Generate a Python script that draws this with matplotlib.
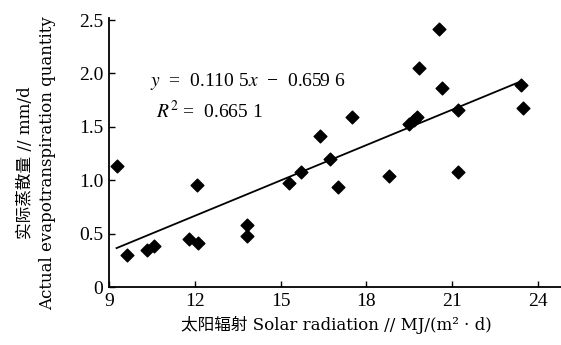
import numpy as np
import matplotlib
matplotlib.use("Agg")
import matplotlib.pyplot as plt

plt.rcParams['font.family'] = ['Liberation Serif', 'Noto Sans CJK SC']
plt.rcParams['mathtext.fontset'] = 'stix'

# solar radiation MJ/(m2 d) and actual evapotranspiration mm/d
radiation = [9.27, 9.65, 10.32, 10.59, 11.81, 12.08, 12.11, 13.83, 13.83,
             15.29, 15.73, 16.38, 16.73, 17.02, 17.48, 18.78, 19.48, 19.65,
             19.77, 19.83, 20.53, 20.65, 21.2, 21.2, 23.4, 23.48]
evap = [1.13, 0.30, 0.35, 0.38, 0.45, 0.955, 0.41, 0.58, 0.48,
        0.977, 1.074, 1.414, 1.195, 0.94, 1.589, 1.042, 1.53, 1.56,
        1.589, 2.05, 2.42, 1.86, 1.657, 1.074, 1.89, 1.673]

slope = 0.1105
intercept = -0.6596
xticks = [9, 12, 15, 18, 21, 24]
yticks = [0, 0.5, 1.0, 1.5, 2.0, 2.5]
ytick_labels = ['0', '0.5', '1.0', '1.5', '2.0', '2.5']

fig = plt.figure(figsize=(5.61, 3.45), dpi=100)
ax = fig.add_axes([0.194, 0.168, 0.806, 0.78])

ax.scatter(radiation, evap, marker='D', s=42, color='black', zorder=3)
xl = np.array([min(radiation), max(radiation) - 0.08])
ax.plot(xl, slope * xl + intercept, color='black', lw=1.3)

ax.set_xlim(9, 24.8)
ax.set_ylim(0, 2.52)
ax.set_xticks(xticks)
ax.set_yticks(yticks)
ax.set_yticklabels(ytick_labels)
ax.tick_params(direction='in', length=4, width=1, labelsize=14, pad=4)
for s in ['top', 'right']:
    ax.spines[s].set_visible(False)
for s in ['left', 'bottom']:
    ax.spines[s].set_linewidth(1.3)

ax.text(0.09, 0.762, r'$y$  =  0.110 5$x$  −  0.659 6', transform=ax.transAxes,
        fontsize=14, va='center')
ax.text(0.105, 0.655, r'$R^2$ =  0.665 1', transform=ax.transAxes,
        fontsize=14, va='center')

lab = ['DejaVu Serif', 'Noto Sans CJK SC']
fig.text(0.6, 0.058, '太阳辐射 Solar radiation // MJ/(m² · d)', fontsize=12,
         family=lab, ha='center', va='center')
fig.text(0.045, 0.527, '实际蒸散量 // mm/d', fontsize=12, family=lab,
         rotation=90, ha='center', va='center')
fig.text(0.084, 0.527, 'Actual evapotranspiration quantity', fontsize=12,
         family=lab, rotation=90, ha='center', va='center')

fig.savefig('out.png', dpi=100)
